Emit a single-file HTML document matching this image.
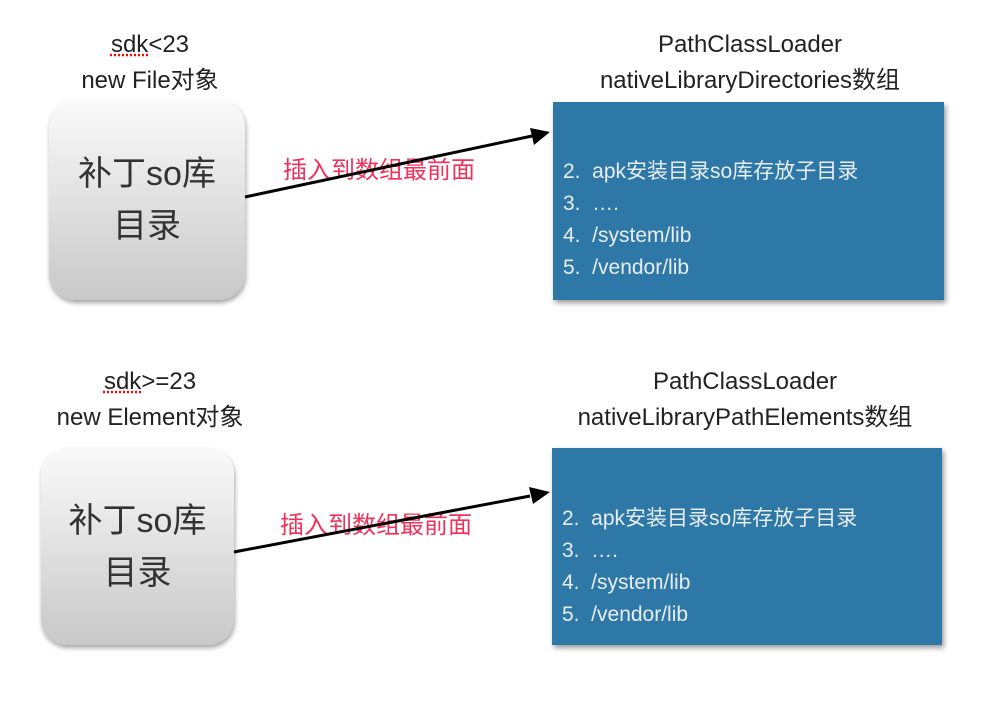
<!DOCTYPE html>
<html><head><meta charset="utf-8"><style>
body{margin:0;width:1002px;height:702px;background:#fff;position:relative;overflow:hidden;font-family:"Liberation Sans","Noto Sans CJK SC",sans-serif;}
.t{position:absolute;color:#222;font-size:24px;text-align:center;white-space:nowrap;line-height:36px;}
.g{position:absolute;border-radius:26px;background:linear-gradient(#fafafa,#c8c8c8);box-shadow:1px 3px 5px rgba(0,0,0,.35);color:#333;font-size:34px;text-align:center;line-height:52px;display:flex;align-items:center;justify-content:center;}
.b{position:absolute;background:#2e78a8;box-shadow:2px 3px 5px rgba(0,0,0,.4);color:#e8eef4;font-size:21px;line-height:32px;padding-left:10px;box-sizing:border-box;}
.r{position:absolute;color:#f0315a;font-size:24px;white-space:nowrap;}
u{text-decoration:underline dotted red;}
</style></head><body>
<div class="t" style="left:50px;width:200px;top:27px"><u>sdk</u>&lt;23<br>new File对象</div>
<div class="t" style="left:540px;width:420px;top:27px">PathClassLoader<br>nativeLibraryDirectories数组</div>
<div class="t" style="left:20px;width:260px;top:364px"><u>sdk</u>&gt;=23<br>new Element对象</div>
<div class="t" style="left:530px;width:430px;top:364px">PathClassLoader<br>nativeLibraryPathElements数组</div>
<div class="g" style="left:49px;top:100px;width:196px;height:200px">补丁so库<br>目录</div>
<div class="g" style="left:41px;top:448px;width:193px;height:197px">补丁so库<br>目录</div>
<div class="b" style="left:553px;top:102px;width:391px;height:198px;padding-top:54px">2.&nbsp; apk安装目录so库存放子目录<br>3.&nbsp; ….<br>4.&nbsp; /system/lib<br>5.&nbsp; /vendor/lib</div>
<div class="b" style="left:552px;top:448px;width:390px;height:197px;padding-top:55px">2.&nbsp; apk安装目录so库存放子目录<br>3.&nbsp; ….<br>4.&nbsp; /system/lib<br>5.&nbsp; /vendor/lib</div>
<div class="r" style="left:283px;top:150px">插入到数组最前面</div>
<div class="r" style="left:280px;top:505px">插入到数组最前面</div>
<svg width="1002" height="702" style="position:absolute;left:0;top:0">
<defs><marker id="a" markerWidth="8" markerHeight="8" refX="7" refY="4" orient="auto" markerUnits="userSpaceOnUse"><path d="M0,0 L0,0" /></marker></defs>
<line x1="245" y1="197" x2="532" y2="136" stroke="#000" stroke-width="3"/>
<polygon points="550,132 530,128 534,145" fill="#000"/>
<line x1="234" y1="552" x2="530" y2="496" stroke="#000" stroke-width="3"/>
<polygon points="550,492 529,487 533,504" fill="#000"/>
</svg>
</body></html>
